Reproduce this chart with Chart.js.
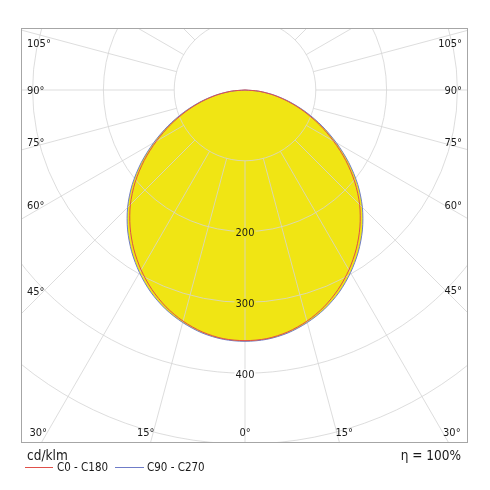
<!DOCTYPE html>
<html>
<head>
<meta charset="utf-8">
<script src="https://cdn.jsdelivr.net/npm/chart.js@4/dist/chart.umd.min.js"></script>
<style>
  html, body { margin: 0; padding: 0; background: #ffffff; }
  #wrap { width: 490px; height: 490px; }
</style>
</head>
<body>
<div id="wrap"><canvas id="c" width="490" height="490"></canvas></div>
<script>
// ---- data (cd/klm) ----
const gammaAngles = [0, 5, 10, 15, 20, 25, 30, 35, 40, 45, 50, 55, 60, 65, 70, 75, 80, 85, 90];
const c0c180  = [354, 352.5, 347, 338, 326, 311, 293.5, 274, 252.5, 229, 202.5, 174, 144.5, 116, 89, 63.5, 40.5, 19, 0];
const c90c270 = [355, 353.5, 348.5, 340, 329, 315, 298, 279, 258, 234.5, 208, 179, 149, 120, 92, 66, 42, 20, 0];
const radialTicks = [100, 200, 300, 400, 500, 600];
const radialLabels = [200, 300, 400];
const angleLabels = [0, 15, 30, 45, 60, 75, 90, 105];
const unitLabel = 'cd/klm';
const seriesNames = ['C0 - C180', 'C90 - C270'];
const efficiencyText = 'η = 100%';

const FONT = '"DejaVu Sans Condensed", "Liberation Sans", sans-serif';
const YELLOW = '#f0e514';
const RED = '#e0504a';
const BLUE = '#6f7cc8';
const GRID = 'rgba(212,212,212,0.8)';

// closed curve: left half (90 -> 0) then right half (0 -> 90)
function toPoints(values) {
  const pts = [];
  for (let i = gammaAngles.length - 1; i >= 0; i--) {
    const t = gammaAngles[i] * Math.PI / 180;
    pts.push({ x: -values[i] * Math.sin(t), y: -values[i] * Math.cos(t) });
  }
  for (let i = 1; i < gammaAngles.length; i++) {
    const t = gammaAngles[i] * Math.PI / 180;
    pts.push({ x: values[i] * Math.sin(t), y: -values[i] * Math.cos(t) });
  }
  return pts;
}

const polarPlugin = {
  id: 'polarPlugin',
  afterDatasetDraw(chart, args) {
    if (args.index !== 0) return;
    const { ctx, chartArea: a, scales: { x, y } } = chart;
    const cx = x.getPixelForValue(0), cy = y.getPixelForValue(0);
    const rp = v => x.getPixelForValue(v) - cx;
    ctx.save();
    ctx.beginPath();
    ctx.rect(a.left, a.top, a.right - a.left, a.bottom - a.top);
    ctx.clip();
    ctx.strokeStyle = GRID;
    ctx.lineWidth = 1;
    for (const v of radialTicks) {
      ctx.beginPath();
      ctx.arc(cx, cy, rp(v), 0, Math.PI * 2);
      ctx.stroke();
    }
    const r0 = rp(radialTicks[0]);
    const r1 = rp(radialTicks[radialTicks.length - 1]) * 1.5;
    for (let d = 0; d < 360; d += 15) {
      const t = d * Math.PI / 180;
      const sx = Math.sin(t), sy = Math.cos(t);
      ctx.beginPath();
      ctx.moveTo(cx + sx * r0, cy + sy * r0);
      ctx.lineTo(cx + sx * r1, cy + sy * r1);
      ctx.stroke();
    }
    ctx.restore();
  },
  afterDraw(chart) {
    const { ctx, chartArea: a, scales: { x, y } } = chart;
    const cx = x.getPixelForValue(0), cy = y.getPixelForValue(0);
    const dy = 1.5;
    ctx.save();
    // frame
    ctx.strokeStyle = '#a6a6a6';
    ctx.lineWidth = 1;
    ctx.strokeRect(a.left + 0.5, a.top + 0.5, a.right - a.left - 1, a.bottom - a.top);

    // radial value labels
    ctx.font = '11px ' + FONT;
    ctx.textAlign = 'center';
    ctx.textBaseline = 'middle';
    const peak = c90c270[0];
    for (const v of radialLabels) {
      const py = y.getPixelForValue(-v);
      const txt = String(v);
      const w = ctx.measureText(txt).width;
      ctx.fillStyle = v < peak ? YELLOW : '#ffffff';
      ctx.fillRect(cx - w / 2 - 1, py - 5 + 1, w + 2, 10);
      ctx.fillStyle = '#1a1a1a';
      ctx.fillText(txt, cx, py + 1.5);
    }

    // angle labels
    const insetSide = 6, insetBottom = 10.5;
    for (const ang of angleLabels) {
      const sides = ang === 0 ? [1] : [-1, 1];
      for (const s of sides) {
        const txt = ang + '°';
        const w = ctx.measureText(txt).width;
        let a2 = ang;
        if (ang > 0 && ang < 90) a2 = ang + 1.2;
        if (ang > 90) a2 = ang - 2;
        const t = a2 * Math.PI / 180;
        const sx = Math.sin(t), sy = Math.cos(t);
        const xEdge = s < 0 ? (cx - (a.left + insetSide + w / 2)) : ((a.right - insetSide - w / 2) - cx);
        const tX = sx > 1e-6 ? xEdge / sx : Infinity;
        const tY = sy > 1e-6 ? (a.bottom - insetBottom - cy) / sy : Infinity;
        ctx.fillStyle = '#1a1a1a';
        if (tX < tY) {
          const py = cy + sy * tX;
          ctx.textAlign = s < 0 ? 'left' : 'right';
          ctx.fillText(txt, s < 0 ? a.left + insetSide : a.right - insetSide, py + dy);
        } else {
          const px = cx + s * sx * tY;
          ctx.textAlign = 'center';
          ctx.fillText(txt, px, a.bottom - insetBottom + dy);
        }
      }
    }

    // footer
    ctx.fillStyle = '#1a1a1a';
    ctx.textBaseline = 'middle';
    ctx.textAlign = 'left';
    ctx.font = '13.5px ' + FONT;
    ctx.fillText(unitLabel, 27, 456);
    ctx.textAlign = 'right';
    ctx.fillText(efficiencyText, 461, 456);

    ctx.font = '11.5px ' + FONT;
    ctx.textAlign = 'left';
    const items = [
      { color: RED, x0: 25, x1: 53, tx: 57, name: seriesNames[0] },
      { color: BLUE, x0: 115, x1: 144, tx: 147, name: seriesNames[1] }
    ];
    for (const it of items) {
      ctx.strokeStyle = it.color;
      ctx.lineWidth = 1;
      ctx.beginPath();
      ctx.moveTo(it.x0, 467.5);
      ctx.lineTo(it.x1, 467.5);
      ctx.stroke();
      ctx.fillStyle = '#1a1a1a';
      ctx.fillText(it.name, it.tx, 468);
    }
    ctx.restore();
  }
};

const K = 0.708; // px per cd/klm (keeps both axes at the same scale)
new Chart(document.getElementById('c'), {
  type: 'scatter',
  data: {
    datasets: [
      { label: 'fill', data: toPoints(c90c270), showLine: true, fill: 'shape',
        backgroundColor: YELLOW, borderColor: 'rgba(0,0,0,0)', borderWidth: 0,
        pointRadius: 0, tension: 0.3, order: 3 },
      { label: seriesNames[1], data: toPoints(c90c270), showLine: true, fill: false,
        borderColor: BLUE, borderWidth: 1, pointRadius: 0, tension: 0.3, order: 2 },
      { label: seriesNames[0], data: toPoints(c0c180), showLine: true, fill: false,
        borderColor: RED, borderWidth: 1, pointRadius: 0, tension: 0.3, order: 1 }
    ]
  },
  options: {
    responsive: false,
    animation: false,
    devicePixelRatio: 1,
    layout: { padding: { left: 21, right: 22, top: 28, bottom: 48 } },
    scales: {
      x: { type: 'linear', display: false, min: -224 / K, max: 223 / K },
      y: { type: 'linear', display: false, min: -352 / K, max: 62 / K }
    },
    plugins: { legend: { display: false }, tooltip: { enabled: false } }
  },
  plugins: [polarPlugin]
});
</script>
</body>
</html>
